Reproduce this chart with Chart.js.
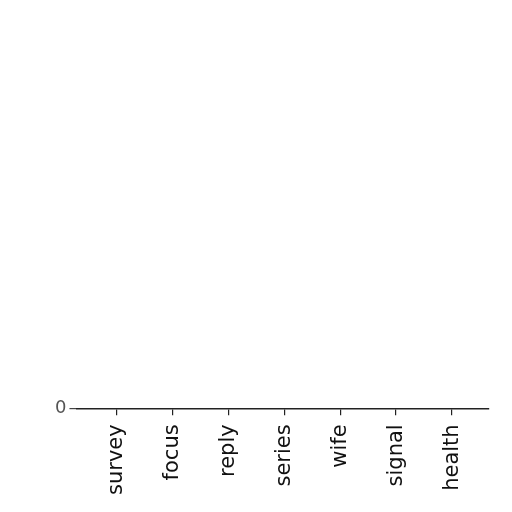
<!DOCTYPE html>
<html>
<head>
<meta charset="utf-8">
<script src="https://cdn.jsdelivr.net/npm/chart.js@4"></script>
<style>
  html, body { margin: 0; padding: 0; background: #fff; }
  #wrap { width: 512px; height: 512px; }
</style>
</head>
<body>
<div id="wrap"><canvas id="chart" width="512" height="512"></canvas></div>
<script>
// categories and values (every bar sits at zero)
const categories = ["survey", "focus", "reply", "series", "wife", "signal", "health"];
const values = [0, 0, 0, 0, 0, 0, 0];
const yTicks = [0];

const points = categories.map((c, i) => ({ x: i, y: values[i] }));

const ctx = document.getElementById("chart").getContext("2d");
const chart = new Chart(ctx, {
  type: "bar",
  data: {
    datasets: [{
      data: points,
      backgroundColor: "#1f77b4",
      borderWidth: 0,
      barPercentage: 0.8,
      categoryPercentage: 1
    }]
  },
  options: {
    responsive: false,
    animation: false,
    layout: { padding: { top: 10, right: 23, bottom: 8, left: 52 } },
    plugins: { legend: { display: false }, tooltip: { enabled: false } },
    scales: {
      x: {
        type: "linear",
        offset: false,
        min: -0.71,
        max: 6.66,
        border: { display: true, color: "#222", width: 1.5 },
        grid: { offset: false, drawOnChartArea: false, drawTicks: true, tickLength: 7, color: "#222", lineWidth: 1.2 },
        afterBuildTicks: function (axis) {
          axis.ticks = categories.map((c, i) => ({ value: i }));
        },
        ticks: {
          autoSkip: false,
          minRotation: 90,
          maxRotation: 90,
          padding: 9,
          color: "#111",
          font: { family: "DejaVu Sans", size: 21 },
          callback: function (v) { return categories[v]; }
        }
      },
      y: {
        min: 0,
        max: 1,
        border: { display: false },
        grid: { drawOnChartArea: false, drawTicks: true, tickLength: 7, color: "#444", lineWidth: 1.2 },
        afterBuildTicks: function (axis) {
          axis.ticks = yTicks.map(v => ({ value: v }));
        },
        ticks: {
          padding: 3,
          color: "#555",
          font: { family: "DejaVu Sans", size: 18 }
        }
      }
    }
  }
});
</script>
</body>
</html>
